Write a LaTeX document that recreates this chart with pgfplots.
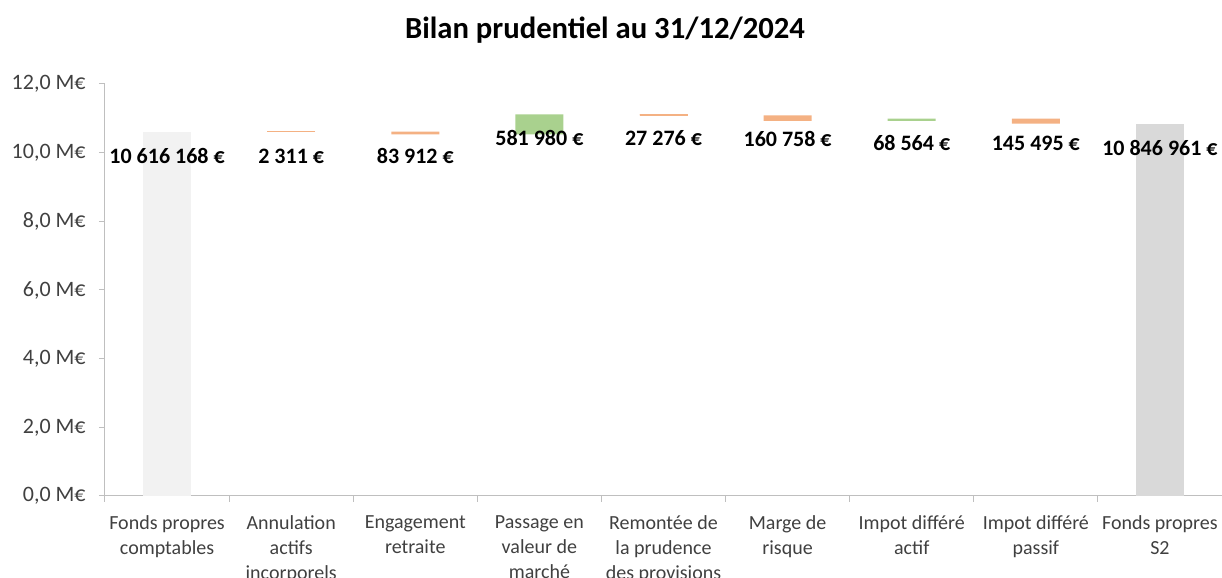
\documentclass[border=0pt]{standalone}
\usepackage{pgfplots}
\pgfplotsset{compat=1.18}
\usepackage{pgfplotstable}
\usepackage{fontspec}
\setmainfont{Carlito}
\definecolor{gstart}{HTML}{F2F2F2}
\definecolor{gend}{HTML}{D9D9D9}
\definecolor{decc}{HTML}{F4B183}
\definecolor{incc}{HTML}{A9D18E}
\definecolor{axcol}{HTML}{BFBFBF}
\definecolor{txtcol}{HTML}{404040}

% values in M€
\pgfplotstableread{
x base start end dec inc
0 0 10.616168 0 0 0
1 10.613857 0 0 0.002311 0
2 10.529945 0 0 0.083912 0
3 10.529945 0 0 0 0.581980
4 11.084649 0 0 0.027276 0
5 10.923891 0 0 0.160758 0
6 10.923891 0 0 0 0.068564
7 10.846960 0 0 0.145495 0
8 0 0 10.846961 0 0
}\wftable

\tikzset{dlab/.style={font=\fontsize{16.5}{20}\selectfont\bfseries, text=black}}

\begin{document}
\begin{tikzpicture}
\useasboundingbox (0,0) rectangle (916.5pt,433.5pt);
\node[anchor=base, font=\fontsize{23}{27}\selectfont\bfseries] at (453.75pt,404.25pt) {Bilan prudentiel au 31/12/2024};
\begin{axis}[
  at={(78.75pt,61.5pt)}, anchor=south west,
  scale only axis, width=837.75pt, height=309pt,
  xmin=-0.5, xmax=8.5, ymin=0, ymax=12,
  axis lines*=left,
  axis line style={draw=axcol, line width=0.75pt},
  tick align=outside,
  major tick length=4.5pt,
  minor tick length=4.5pt,
  tick style={draw=axcol, line width=0.75pt},
  ytick={0,2,4,6,8,10,12},
  yticklabels={{0,0 M€},{2,0 M€},{4,0 M€},{6,0 M€},{8,0 M€},{10,0 M€},{12,0 M€}},
  y tick label style={font=\fontsize{16.5}{19}\selectfont, text=txtcol, xshift=-6.5pt},
  xtick={0,1,2,3,4,5,6,7,8},
  xticklabels={{Fonds propres\\comptables},{Annulation\\actifs\\incorporels},{Engagement\\retraite},{Passage en\\valeur de\\marché},{Remontée de\\la prudence\\des provisions},{Marge de\\risque},{Impot différé\\actif},{Impot différé\\passif},{Fonds propres\\S2}},
  every major x tick/.append style={draw=none},
  minor xtick={-0.5,0.5,1.5,2.5,3.5,4.5,5.5,6.5,7.5,8.5},
  x tick label style={font=\fontsize{15}{18.75}\selectfont, text=txtcol, align=center, anchor=north, yshift=-6.5pt},
  ybar stacked,
  bar width=36pt,
  clip=false,
]
\addplot[draw=none, fill=none] table[x=x, y=base] {\wftable};
\addplot[draw=none, fill=gstart] table[x=x, y=start] {\wftable};
\addplot[draw=none, fill=gend] table[x=x, y=end] {\wftable};
\addplot[draw=none, fill=decc] table[x=x, y=dec] {\wftable};
\addplot[draw=none, fill=incc] table[x=x, y=inc] {\wftable};
% minimum visible edge for very thin changes (2 311 and 27 276)
\addplot[stack plots=false, sharp plot, color=decc, mark=-, mark size=18pt,
  line width=0pt, draw opacity=0,
  mark options={draw=decc, draw opacity=1, line width=1pt}] coordinates {(1,10.615013) (4,11.098287)};
\coordinate (l0) at (axis cs:0,9.90);
\coordinate (l1) at (axis cs:1,9.90);
\coordinate (l2) at (axis cs:2,9.90);
\coordinate (l3) at (axis cs:3,10.43);
\coordinate (l4) at (axis cs:4,10.43);
\coordinate (l5) at (axis cs:5,10.40);
\coordinate (l6) at (axis cs:6,10.28);
\coordinate (l7) at (axis cs:7,10.28);
\coordinate (l8) at (axis cs:8,10.15);
\end{axis}
\node[dlab] at (l0) {10 616 168 €};
\node[dlab] at (l1) {2 311 €};
\node[dlab] at (l2) {83 912 €};
\node[dlab] at (l3) {581 980 €};
\node[dlab] at (l4) {27 276 €};
\node[dlab] at (l5) {160 758 €};
\node[dlab] at (l6) {68 564 €};
\node[dlab] at (l7) {145 495 €};
\node[dlab] at (l8) {10 846 961 €};
\end{tikzpicture}
\end{document}
